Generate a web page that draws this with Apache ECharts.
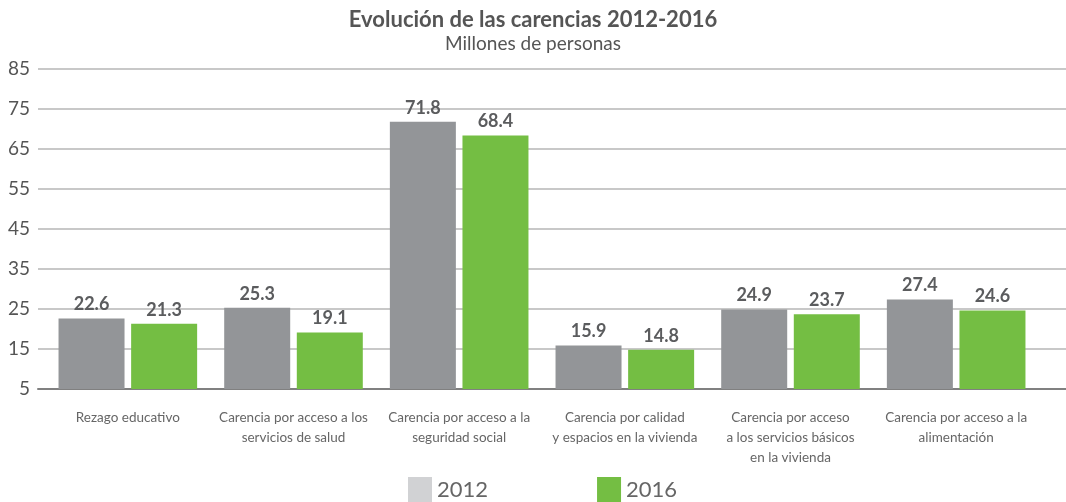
<!DOCTYPE html>
<html>
<head>
<meta charset="utf-8">
<script src="https://cdn.jsdelivr.net/npm/echarts@6/dist/echarts.min.js"></script>
<style>html,body{margin:0;padding:0;background:#fff}#c{width:1066px;height:502px}</style>
</head>
<body>
<div id="c"></div>
<script>
const categories = [
  "Rezago educativo",
  "Carencia por acceso a los\nservicios de salud",
  "Carencia por acceso a la\nseguridad social",
  "Carencia por calidad\ny espacios en la vivienda",
  "Carencia por acceso\na los servicios básicos\nen la vivienda",
  "Carencia por acceso a la\nalimentación"
];
const values2012 = [22.6, 25.3, 71.8, 15.9, 24.9, 27.4];
const values2016 = [21.3, 19.1, 68.4, 14.8, 23.7, 24.6];
const yMin = 5, yMax = 85, yInterval = 10;

const font = "Lato, 'Open Sans', sans-serif";
const chart = echarts.init(document.getElementById('c'));
const valueLabel = {
  show: true, position: 'top', distance: 5,
  fontSize: 18, fontWeight: 'bold', color: '#5b5c5e', fontFamily: font
};
chart.setOption({
  animation: false,
  title: {
    text: 'Evolución de las carencias 2012-2016',
    subtext: 'Millones de personas',
    left: 'center', top: 4, itemGap: 3,
    textStyle: { fontSize: 22, fontWeight: 'bold', color: '#555', fontFamily: font },
    subtextStyle: { fontSize: 19, color: '#555', fontFamily: font }
  },
  legend: {
    left: 408, top: 477, padding: 0, icon: 'rect',
    itemWidth: 24, itemHeight: 25, itemGap: 109,
    textStyle: { fontSize: 22, color: '#666', fontFamily: font, padding: [3, 0, 0, 0] },
    data: [
      { name: '2012', itemStyle: { color: '#d1d2d4' } },
      { name: '2016', itemStyle: { color: '#74be43' } }
    ]
  },
  grid: [
    { left: 45, right: 27, top: 69, bottom: 113 },
    { left: 38, right: 0, top: 69, bottom: 113 }
  ],
  xAxis: [
    {
      type: 'category', gridIndex: 0, data: categories,
      axisLine: { show: false }, axisTick: { show: false },
      axisLabel: { fontSize: 13.5, color: '#666', lineHeight: 20, margin: 19, interval: 0, fontFamily: font }
    },
    {
      type: 'value', gridIndex: 1, min: 0, max: 1,
      axisLine: { show: true, onZero: false, lineStyle: { color: '#808080', width: 2 } },
      axisTick: { show: false }, axisLabel: { show: false }, splitLine: { show: false }
    }
  ],
  yAxis: [
    {
      type: 'value', gridIndex: 0, min: yMin, max: yMax, interval: yInterval,
      axisLabel: { show: false }, axisLine: { show: false }, axisTick: { show: false },
      splitLine: { show: false }
    },
    {
      type: 'value', gridIndex: 1, min: yMin, max: yMax, interval: yInterval,
      axisLine: { show: false }, axisTick: { show: false },
      axisLabel: { fontSize: 19, color: '#555', margin: 8, fontFamily: font },
      splitLine: { lineStyle: { color: '#c8c8c8', width: 2 } }
    }
  ],
  series: [
    {
      name: '2012', type: 'bar', xAxisIndex: 0, yAxisIndex: 0,
      data: values2012, barWidth: 66, barGap: '10%',
      itemStyle: { color: '#939598' }, label: valueLabel, z: 3
    },
    {
      name: '2016', type: 'bar', xAxisIndex: 0, yAxisIndex: 0,
      data: values2016, barWidth: 66, barGap: '10%',
      itemStyle: { color: '#74be43' }, label: valueLabel, z: 3
    }
  ]
});
</script>
</body>
</html>
